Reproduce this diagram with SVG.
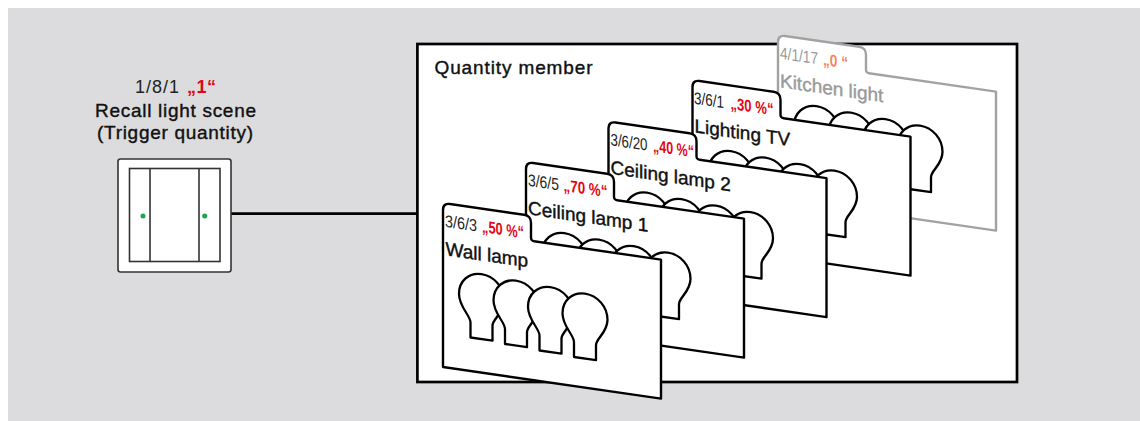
<svg xmlns="http://www.w3.org/2000/svg" xmlns:xlink="http://www.w3.org/1999/xlink" width="1140" height="421" viewBox="0 0 1140 421">
  <style>
    .txt { font-family: "Liberation Sans", Arial, sans-serif; }
    .med { font-size: 19px; fill: #111; stroke: #111; stroke-width: 0.4px; }
    .num { font-size: 17px; fill: #222; }
    .red { font-size: 17px; font-weight: bold; fill: #e30613; }
    .card { fill: #fff; stroke: #000; stroke-width: 2.4; stroke-linejoin: round; }
    .bulb { fill: #fff; stroke: #000; stroke-width: 2.3; stroke-linejoin: round; }
    .ghost .card, .ghost .bulb { stroke: #a2a2a2; }
    .ghost .med { fill: #9a9a9a; stroke: #9a9a9a; }
    .ghost .num { fill: #9a9a9a; }
    .ghost .red { fill: #f4845f; }
  </style>
  <defs>
    <!-- one lamp: round head, narrowing neck, flat base; origin = centre of the head -->
    <path id="bulb" class="bulb" d="M -11,42 L -11,27 C -11,20 -22.5,13 -22.5,0 C -22.5,-13 -12.5,-23 0,-23 C 12.5,-23 22.5,-13 22.5,0 C 22.5,13 11,20 11,27 L 11,42 Z"/>
    <!-- tabbed card outline in its own (unskewed) frame -->
    <path id="cardShape" d="M0,164 L0,7 Q0,0 7,0 L81,0 Q88,0 88,7 L88,22 Q88,25 91,25 L218,25 L218,164 Z"/>
    <g id="lamps">
      <use xlink:href="#bulb" x="38.5" y="88.5"/>
      <use xlink:href="#bulb" x="73" y="90"/>
      <use xlink:href="#bulb" x="107.5" y="91.5"/>
      <use xlink:href="#bulb" x="142" y="93"/>
    </g>
  </defs>

  <!-- backdrop -->
  <rect x="8" y="8" width="1132" height="413" fill="#dcdcde"/>

  <!-- push-button -->
  <g id="switch">
    <text class="txt" x="135" y="93" font-size="18" fill="#222" textLength="44">1/8/1</text>
    <text class="txt" x="187" y="93" font-size="18" font-weight="bold" fill="#e30613" textLength="29">„1“</text>
    <text class="txt med" x="95" y="116.7" textLength="161">Recall light scene</text>
    <text class="txt med" x="97" y="138.5" textLength="156">(Trigger quantity)</text>
    <rect x="118" y="159" width="113" height="113" rx="2.5" fill="#fff" stroke="#333" stroke-width="1.6"/>
    <rect x="129.5" y="168.5" width="90.5" height="93" fill="#fff" stroke="#333" stroke-width="1.6"/>
    <line x1="150" y1="168.5" x2="150" y2="261.5" stroke="#333" stroke-width="1.6"/>
    <line x1="199" y1="168.5" x2="199" y2="261.5" stroke="#333" stroke-width="1.6"/>
    <circle cx="143" cy="216" r="2.5" fill="#16a84a"/>
    <circle cx="204.7" cy="216" r="2.5" fill="#16a84a"/>
  </g>

  <!-- link from the push-button to the group box -->
  <g id="connectors">
    <line x1="231.5" y1="213.7" x2="417" y2="213.7" stroke="#000" stroke-width="2.7"/>
  </g>

  <!-- group box -->
  <g id="quantity-member">
    <rect x="417.4" y="44" width="599.6" height="338" fill="#fff" stroke="#000" stroke-width="2.7"/>
    <text class="txt med" x="434.5" y="74.3" textLength="158">Quantity member</text>
  </g>

  <!-- stacked cards, back to front -->
  <g id="card-kitchen-light" class="ghost" transform="matrix(1 0.145 0 1 778 35)">
    <use xlink:href="#cardShape" class="card"/>
    <use xlink:href="#lamps"/>
    <text class="txt num" x="2" y="23.5" textLength="38" lengthAdjust="spacingAndGlyphs">4/1/17</text>
    <text class="txt red" x="45" y="23.5" textLength="25" lengthAdjust="spacingAndGlyphs">„0 “</text>
    <text class="txt med" x="2" y="52">Kitchen light</text>
  </g>

  <g id="card-lighting-tv" transform="matrix(1 0.145 0 1 692.5 80)">
    <use xlink:href="#cardShape" class="card"/>
    <use xlink:href="#lamps"/>
    <text class="txt num" x="1.5" y="23.5" textLength="30" lengthAdjust="spacingAndGlyphs">3/6/1</text>
    <text class="txt red" x="38" y="23.5" textLength="43" lengthAdjust="spacingAndGlyphs">„30 %“</text>
    <text class="txt med" x="2" y="52">Lighting TV</text>
  </g>

  <g id="card-ceiling-lamp-2" transform="matrix(1 0.145 0 1 608.5 121.5)">
    <use xlink:href="#cardShape" class="card"/>
    <use xlink:href="#lamps"/>
    <text class="txt num" x="2" y="23.5" textLength="37" lengthAdjust="spacingAndGlyphs">3/6/20</text>
    <text class="txt red" x="44.5" y="23.5" textLength="41" lengthAdjust="spacingAndGlyphs">„40 %“</text>
    <text class="txt med" x="2" y="52">Ceiling lamp 2</text>
  </g>

  <g id="card-ceiling-lamp-1" transform="matrix(1 0.145 0 1 526 162)">
    <use xlink:href="#cardShape" class="card"/>
    <use xlink:href="#lamps"/>
    <text class="txt num" x="2" y="23.5" textLength="31" lengthAdjust="spacingAndGlyphs">3/6/5</text>
    <text class="txt red" x="37.5" y="23.5" textLength="44" lengthAdjust="spacingAndGlyphs">„70 %“</text>
    <text class="txt med" x="2" y="52">Ceiling lamp 1</text>
  </g>

  <g id="card-wall-lamp" transform="matrix(1 0.145 0 1 443 203)">
    <use xlink:href="#cardShape" class="card"/>
    <use xlink:href="#lamps"/>
    <text class="txt num" x="2" y="23.5" textLength="32" lengthAdjust="spacingAndGlyphs">3/6/3</text>
    <text class="txt red" x="39" y="23.5" textLength="42" lengthAdjust="spacingAndGlyphs">„50 %“</text>
    <text class="txt med" x="2.5" y="52">Wall lamp</text>
  </g>
</svg>
